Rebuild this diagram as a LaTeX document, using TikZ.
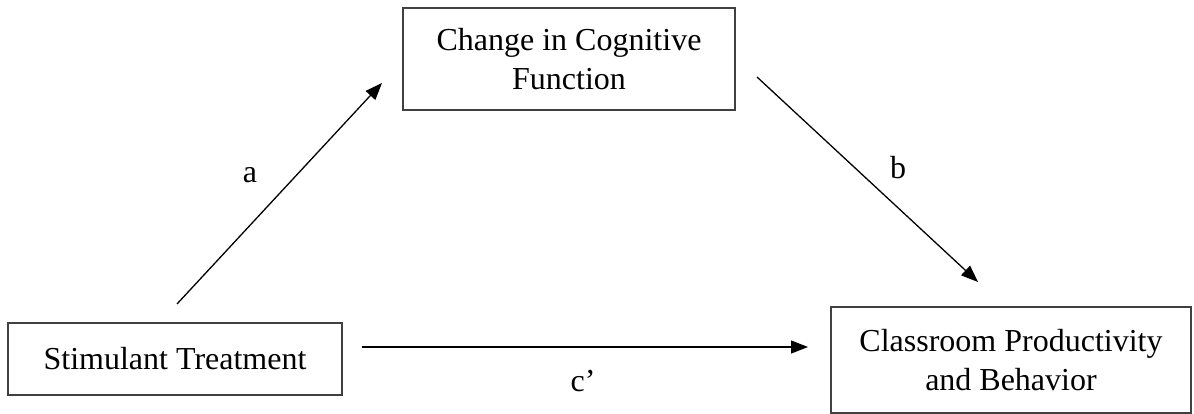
\documentclass[tikz,border=0pt]{standalone}
\usepackage{fontspec}
\setmainfont{Liberation Serif}
\usetikzlibrary{arrows.meta}
\begin{document}
\begin{tikzpicture}[x=1pt,y=-1pt,
  box/.style={draw=black!75,line width=1.6pt,minimum width=#1,inner sep=0pt,align=center,
    font=\fontsize{32}{39}\selectfont},
  conn/.style={line width=1.3pt,-{Triangle[length=17pt,width=13pt]}},
  lbl/.style={font=\fontsize{32}{39}\selectfont,inner sep=0pt}]
\useasboundingbox (0,0) rectangle (1194,414);
\node[box=332pt,minimum height=102pt] (cog) at (569,59) {Change in Cognitive\\Function};
\node[box=334pt,minimum height=72pt] (stim) at (175,359) {Stimulant Treatment};
\node[box=360pt,minimum height=106pt] (class) at (1011,360) {Classroom Productivity\\and Behavior};
\coordinate (a1) at (177,304);
\coordinate (a2) at (382,83);
\coordinate (b1) at (757,77);
\coordinate (b2) at (978,282);
\coordinate (c1) at (362,347);
\coordinate (c2) at (808,347);
\draw[conn] (a1) -- (a2);
\draw[conn] (b1) -- (b2);
\draw[conn] (c1) -- (c2);
\node[lbl] (la) at (250,175) {a};
\node[lbl] (lb) at (898,168) {b};
\node[lbl] (lc) at (583,381) {c’};
\end{tikzpicture}
\end{document}
